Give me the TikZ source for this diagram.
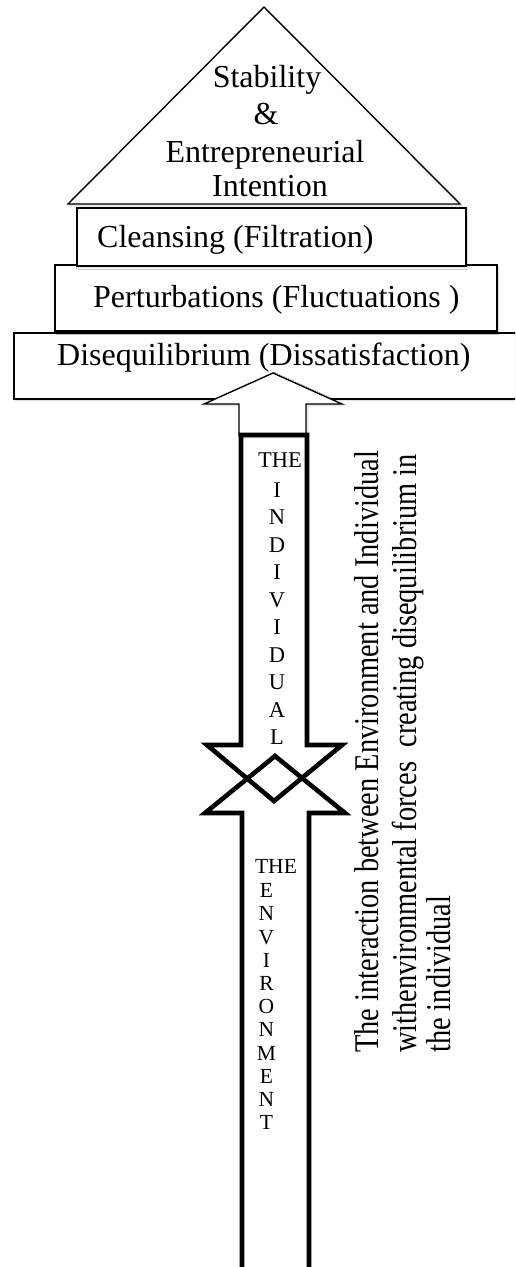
\documentclass[tikz,border=0pt]{standalone}
\usepackage{fontspec}
\setmainfont{Liberation Serif}
\usetikzlibrary{shadows.blur}
\tikzset{
  shade/.style={blur shadow={shadow xshift=1.5pt, shadow yshift=-1.5pt, shadow blur radius=2pt, shadow blur steps=6, shadow opacity=18}},
  tier/.style={draw=black, line width=1.6pt, fill=white, shade, anchor=north west, inner sep=0pt},
  tiertext/.style={font=\fontsize{32}{36}\selectfont, inner sep=0pt, anchor=base west},
  peaktext/.style={font=\fontsize{32}{36}\selectfont, inner sep=0pt, anchor=base},
  bigarrow/.style={draw=black, line width=4.6pt, miter limit=10},
  thinarrow/.style={draw=black, line width=1.4pt, fill=white, shade},
  stack/.style={align=center, inner sep=0pt, anchor=north},
  sidenote/.style={font=\fontsize{28.4}{30}\selectfont, inner sep=0pt, rotate=90, anchor=base west}
}
\begin{document}
\begin{tikzpicture}[x=1pt,y=1pt]
\useasboundingbox (0,0) rectangle (515,-1267);
\clip (0,0) rectangle (515,-1267);

% bottom tier: extends past the right edge
\node[tier, minimum width=512pt, minimum height=66pt] (diseq) at (13,-332) {};
\node[tiertext] (diseqtext) at (57,-365) {Disequilibrium (Dissatisfaction)};

% middle tier
\node[tier, minimum width=442pt, minimum height=66pt] (pert) at (54,-264) {};
\node[tiertext] (perttext) at (93,-307) {Perturbations (Fluctuations )};

% upper tier
\node[tier, minimum width=389pt, minimum height=58pt] (cleanse) at (76,-207) {};
\node[tiertext] (cleansetext) at (97,-247) {Cleansing (Filtration)};

% peak
\coordinate (apex) at (264,-7);
\coordinate (baseL) at (68,-204);
\coordinate (baseR) at (460,-204);
\draw[line width=1.4pt, fill=white, shade, line join=miter] (baseL) -- (apex) -- (baseR) -- cycle;
\node[peaktext] (peak1) at (267,-87) {Stability};
\node[peaktext] (peak2) at (266,-124) {\&};
\node[peaktext] (peak3) at (265,-162) {Entrepreneurial};
\node[peaktext] (peak4) at (270,-196) {Intention};

% thin arrow pushing up into the bottom tier
\draw[thinarrow] (239,-436) -- (239,-404) -- (204,-404) -- (273,-373) -- (342,-404)
  -- (306,-404) -- (306,-436) -- cycle;

% the individual: thick arrow pointing down
\draw[bigarrow] (241,-435) -- (307,-435) -- (307,-745) -- (342,-745) -- (274,-801)
  -- (207,-745) -- (241,-745) -- cycle;

% the environment: thick arrow pointing up, shaft running off the bottom
\draw[bigarrow] (242,-1290) -- (242,-813) -- (205,-813) -- (275,-756) -- (345,-813)
  -- (309,-813) -- (309,-1290);

% labels inside the arrows
\node[inner sep=0pt, anchor=base, font=\fontsize{22.5}{27.5}\selectfont] (indthe) at (280,-467) {THE};
\node[stack, font=\fontsize{22.5}{27.5}\selectfont] (indword) at (277,-482.5)
  {I\\N\\D\\I\\V\\I\\D\\U\\A\\L};

\node[inner sep=0pt, anchor=base, font=\fontsize{21.5}{23.2}\selectfont] (envthe) at (276,-873.5) {THE};
\node[stack, font=\fontsize{21.5}{23.2}\selectfont] (envword) at (266.5,-883.5)
  {E\\N\\V\\I\\R\\O\\N\\M\\E\\N\\T};

% side note, read bottom to top
\node[sidenote] (note1) at (378,-1053) {\scalebox{1}[1.22]{The interaction between Environment and Individual}};
\node[sidenote] (note2) at (416,-1053) {\scalebox{1}[1.22]{withenvironmental forces\ \ creating disequilibrium in}};
\node[sidenote] (note3) at (450,-1053) {\scalebox{1}[1.22]{the individual}};
\end{tikzpicture}
\end{document}
